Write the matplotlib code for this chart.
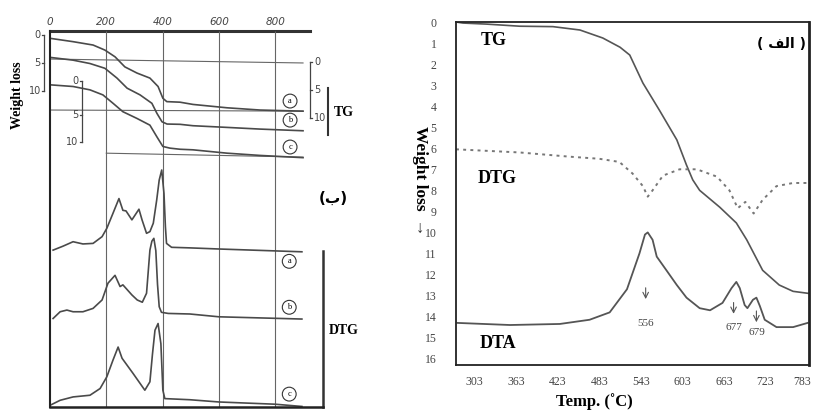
import matplotlib
matplotlib.use("Agg")
import matplotlib.pyplot as plt
from matplotlib.transforms import ScaledTranslation

plt.rcParams['font.family'] = ['Liberation Serif', 'DejaVu Sans']

# ---------- panel (ب): TG / DTG of samples a, b, c ----------
grid_temps = [200, 400, 600, 800]
top_ticks = [0, 200, 400, 600, 800]

tg_a_t = [0, 82, 153, 195, 231, 266, 309, 355, 384, 401, 415, 462, 508, 629, 746, 899]
tg_a_w = [0.6, 1.2, 1.8, 2.7, 3.9, 5.7, 6.8, 7.7, 9.2, 11.3, 11.9, 12.0, 12.4, 13.0, 13.4, 13.6]
tg_b_t = [0, 82, 142, 195, 238, 274, 320, 362, 380, 398, 416, 462, 508, 629, 746, 899]
tg_b_w = [4.0, 4.5, 5.1, 5.95, 7.7, 9.5, 10.7, 12.2, 14.0, 15.5, 15.9, 15.95, 16.2, 16.5, 16.8, 17.1]
tg_c_t = [0, 82, 142, 188, 224, 259, 309, 355, 380, 401, 426, 462, 508, 629, 746, 899]
tg_c_w = [8.9, 9.2, 9.8, 10.7, 12.2, 13.7, 14.9, 16.1, 18.2, 19.9, 20.2, 20.4, 20.5, 21.1, 21.5, 21.9]

dtg_a_t = [11, 46, 82, 117, 153, 185, 202, 224, 245, 259, 270, 291, 316, 327, 343, 355,
           367, 379, 388, 397, 405, 410, 414, 432, 497, 600, 895]
dtg_a_w = [38.4, 37.7, 36.9, 37.3, 37.2, 36.0, 34.5, 31.8, 29.2, 31.3, 31.4, 33.0, 31.1, 33.0,
           35.4, 35.1, 33.6, 29.5, 25.9, 24.1, 28.3, 34.2, 37.2, 37.9, 38.0, 38.2, 38.7]
dtg_b_t = [11, 36, 60, 82, 117, 153, 185, 206, 231, 249, 259, 275, 291, 310, 328, 343, 355,
           362, 369, 376, 382, 388, 396, 420, 497, 600, 895]
dtg_b_w = [50.6, 49.4, 49.1, 49.4, 49.4, 48.8, 47.3, 44.3, 42.9, 44.9, 44.6, 45.5, 46.4, 47.3,
           47.7, 46.1, 38.4, 36.8, 36.3, 38.5, 44.5, 48.5, 49.5, 49.7, 49.8, 50.3, 50.7]
dtg_c_t = [0, 36, 82, 142, 178, 202, 224, 242, 256, 295, 337, 355, 364, 373, 384, 394, 401,
           408, 497, 600, 800, 895]
dtg_c_w = [66.1, 65.2, 64.6, 64.3, 63.1, 61.0, 58.0, 55.7, 57.7, 60.4, 63.4, 61.9, 57.0, 52.7,
           51.5, 55.1, 63.4, 64.9, 65.1, 65.5, 65.9, 66.3]

# baselines drawn under the TG curves (start/end temp, start/end level)
base_t = [[0, 899], [0, 899], [200, 899]]
base_w = [[4.3, 5.0], [13.4, 13.6], [21.1, 21.8]]

circle_letters = ['a', 'b', 'c']
tg_circle_w = [11.8, 15.2, 20.0]
dtg_circle_w = [40.4, 48.6, 64.1]

# ---------- panel (الف): TG / DTG / DTA ----------
r_ticks_x = [303, 363, 423, 483, 543, 603, 663, 723, 783]
r_ticks_y = list(range(0, 17))

r_tg_t = [276, 286, 320, 368, 416, 455, 488, 513, 527, 546, 570, 595, 609, 618, 628, 657,
          681, 696, 719, 743, 763, 786]
r_tg_w = [0.0, 0.05, 0.1, 0.2, 0.22, 0.38, 0.76, 1.2, 1.57, 2.9, 4.2, 5.6, 6.8, 7.5, 8.0, 8.8,
          9.55, 10.35, 11.8, 12.5, 12.8, 12.9]
r_dtg_t = [276, 368, 440, 483, 512, 531, 546, 553, 560, 575, 599, 624, 653, 671, 683, 694,
           706, 719, 739, 763, 786]
r_dtg_w = [6.05, 6.2, 6.4, 6.5, 6.65, 7.2, 7.8, 8.3, 8.0, 7.3, 7.0, 7.0, 7.35, 8.0, 8.85, 8.55,
           9.1, 8.45, 7.8, 7.65, 7.65]
r_dta_t = [278, 354, 426, 469, 498, 523, 541, 549, 553, 560, 566, 580, 595, 609, 628, 643,
           661, 674, 681, 686, 693, 697, 705, 710, 715, 722, 739, 763, 784]
r_dta_w = [14.3, 14.4, 14.35, 14.15, 13.8, 12.7, 11.0, 10.1, 10.0, 10.35, 11.15, 11.8, 12.5,
           13.1, 13.6, 13.7, 13.35, 12.65, 12.35, 12.65, 13.45, 13.6, 13.2, 13.1, 13.5, 14.15,
           14.5, 14.5, 14.3]

peak_labels = ['556', '677', '679']
peak_t = [550, 677, 710]
arrow_from = [12.5, 13.2, 13.6]
arrow_to = [13.3, 14.0, 14.4]
label_w = [14.35, 14.5, 14.75]

fig = plt.figure(figsize=(8.13, 4.12), dpi=100)
fig.patch.set_facecolor('white')

line_c = '#4a4a4a'

# ===== left panel =====
ax1 = fig.add_axes([0.0615, 0.0121, 0.3358, 0.9126])
ax1.set_xlim(0, 970)
ax1.set_ylim(66.4, -0.7)
for s in ['top', 'right']:
    ax1.spines[s].set_visible(False)
ax1.spines['left'].set_linewidth(1.5)
ax1.spines['bottom'].set_linewidth(1.8)
ax1.spines['left'].set_color('#222')
ax1.spines['bottom'].set_color('#222')
ax1.axhline(-0.7, xmin=0, xmax=924 / 970, color='#333', lw=2.2, clip_on=False)

ax1.xaxis.tick_top()
ax1.set_xticks(top_ticks)
ax1.set_xticklabels([str(t) for t in top_ticks], fontsize=7.5, color='#444',
                    family=['DejaVu Sans'], style='italic')
ax1.tick_params(axis='x', length=0, pad=3)
ax1.set_yticks([])

ax1.vlines(grid_temps, -0.7, 66.4, color='#666', lw=0.8)
for bt, bw in zip(base_t, base_w):
    ax1.plot(bt, bw, color='#666', lw=0.8)

for t, w in [(tg_a_t, tg_a_w), (tg_b_t, tg_b_w), (tg_c_t, tg_c_w),
             (dtg_a_t, dtg_a_w), (dtg_b_t, dtg_b_w), (dtg_c_t, dtg_c_w)]:
    ax1.plot(t, w, color=line_c, lw=1.2)

circ = dict(boxstyle='circle,pad=0.35', fc='white', ec='#333', lw=0.8)
for letter, w in zip(circle_letters, tg_circle_w):
    ax1.text(853, w, letter, fontsize=6, ha='center', va='center', bbox=circ)
for letter, w in zip(circle_letters, dtg_circle_w):
    ax1.text(850, w, letter, fontsize=6, ha='center', va='center', bbox=circ)


def bracket(ax, x, y0, y1, ticks, labels, side, tx):
    ax.plot([x, x], [y0, y1], color='#444', lw=0.9, clip_on=False)
    d = -7 if side == 'left' else 7
    for ty, lab in zip(ticks, labels):
        ax.plot([x, x + d], [ty, ty], color='#444', lw=0.9, clip_on=False)
        ax.text(tx, ty, lab, fontsize=7, color='#444', va='center',
                ha='right' if side == 'left' else 'left',
                family=['DejaVu Sans'], clip_on=False)


bracket(ax1, -21, 0, 10, [0, 5, 10], ['0', '5', '10'], 'left', -33)
bracket(ax1, 114, 8.2, 19.1, [8.2, 14.3, 19.1], ['0', '5', '10'], 'left', 100)
bracket(ax1, 924, 4.8, 14.8, [4.8, 9.8, 14.8], ['0', '5', '10'], 'right', 938)

ax1.plot([988, 988], [9.5, 17.9], color='#333', lw=1.5, clip_on=False)
ax1.text(1010, 13.9, 'TG', fontsize=10, fontweight='bold', va='center', clip_on=False)
ax1.plot([970, 970], [38.6, 66.4], color='#333', lw=1.8, clip_on=False)
ax1.text(990, 52.7, 'DTG', fontsize=10, fontweight='bold', va='center', clip_on=False)
ax1.text(1005, 29.2, '(ب)', fontsize=11, fontweight='bold', va='center', ha='center',
         family=['DejaVu Sans'], clip_on=False)

fig.text(18 / 813, 1 - 95 / 412, 'Weight loss', rotation=90, fontsize=10,
         fontweight='bold', ha='center', va='center')

# ===== right panel =====
ax2 = fig.add_axes([0.5609, 0.1141, 0.4342, 0.8325])
ax2.set_xlim(276, 786)
ax2.set_ylim(16.3, 0)
for s in ax2.spines.values():
    s.set_linewidth(1.3)
    s.set_color('#222')
ax2.spines['right'].set_linewidth(2)
ax2.set_xticks(r_ticks_x)
ax2.set_xticklabels([str(v) for v in r_ticks_x], fontsize=8.5, color='#444')
ax2.set_yticks(r_ticks_y)
ax2.set_yticklabels([str(v) for v in r_ticks_y], fontsize=8.5, color='#444')
ax2.tick_params(axis='x', length=0, pad=8)
ax2.tick_params(axis='y', length=0, pad=14)
# nudge the last tick label so it stays inside the picture
last = ax2.get_xticklabels()[-1]
last.set_transform(last.get_transform() + ScaledTranslation(-5 / 100, 0, fig.dpi_scale_trans))

ax2.plot(r_tg_t, r_tg_w, color='#555', lw=1.2)
ax2.plot(r_dtg_t, r_dtg_w, color='#777', lw=1.4, linestyle=(0, (1.5, 2.2)))
ax2.plot(r_dta_t, r_dta_w, color='#555', lw=1.3)

for lab, t, w0, w1, wl in zip(peak_labels, peak_t, arrow_from, arrow_to, label_w):
    ax2.annotate('', xy=(t, w1), xytext=(t, w0),
                 arrowprops=dict(arrowstyle='->', color='#555', lw=0.8))
    ax2.text(t, wl, lab, fontsize=8, color='#444', ha='center', va='center')

ax2.text(330, 0.9, 'TG', fontsize=13, fontweight='bold', ha='center', va='center')
ax2.text(336, 7.45, 'DTG', fontsize=13, fontweight='bold', ha='center', va='center')
ax2.text(336, 15.3, 'DTA', fontsize=13, fontweight='bold', ha='center', va='center')
ax2.text(746, 1.05, '( \ufed2\ufedf\ufe8d )', fontsize=10, fontweight='bold',
         ha='center', va='center', family=['DejaVu Sans'])

fig.text(594 / 813, 1 - 402 / 412, 'Temp. (˚C)', fontsize=12, fontweight='bold',
         ha='center', va='center')
fig.text(420 / 813, 1 - 168 / 412, 'Weight loss', rotation=270, fontsize=12.5,
         fontweight='bold', ha='center', va='center')
fig.text(420 / 813, 1 - 229 / 412, '↓', fontsize=12, ha='center', va='center',
         color='#333')

fig.savefig('out.png', dpi=100)
